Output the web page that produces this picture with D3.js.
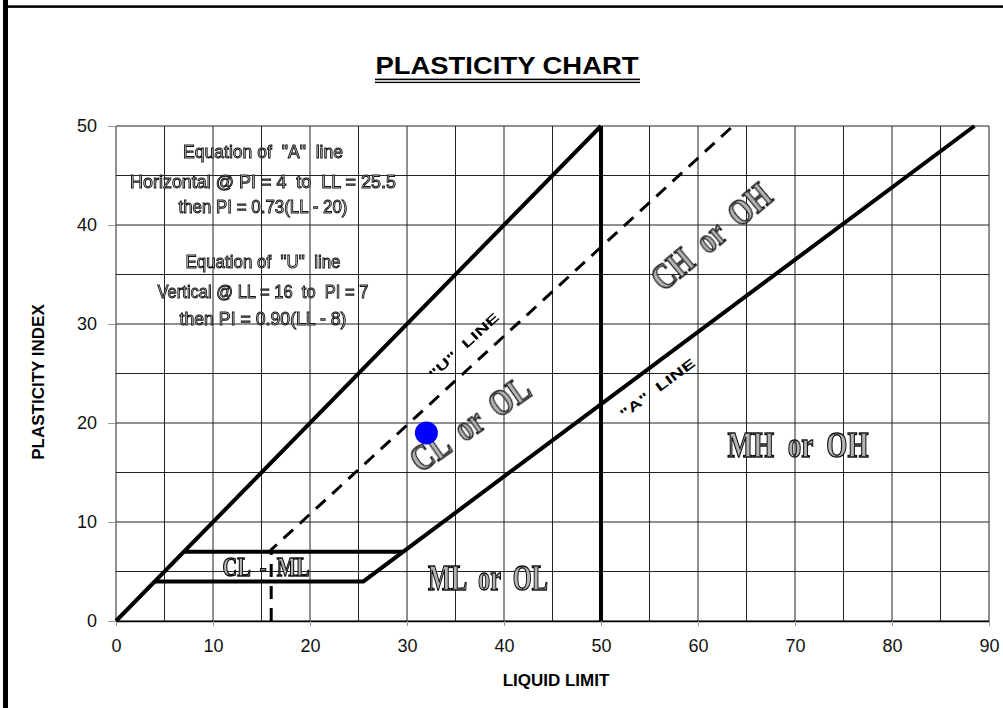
<!DOCTYPE html>
<html lang="en">
<head>
<meta charset="UTF-8">
<title>Plasticity Chart</title>
<script src="https://cdn.jsdelivr.net/npm/d3@7"></script>
<style>
  body { margin: 0; background: #fff; font-family: "Liberation Sans", Arial, sans-serif; }
  text { white-space: pre; }
  .tick text { font-size: 18px; fill: #111; font-family: "Liberation Sans", Arial, sans-serif; }
  .axis-title { font-size: 17px; font-weight: bold; text-anchor: middle; }
  .eq { font-family: "Liberation Sans Narrow", "Arial Narrow", "Liberation Sans", Arial, sans-serif;
        font-size: 19px; fill: #e2e2e2; stroke: #111; stroke-width: 1px; text-anchor: middle; }
  .zone { font-family: "Liberation Serif", "Times New Roman", serif; font-weight: bold;
          fill: #b4b4b4; stroke: #111; stroke-width: 1.4px; text-anchor: middle; }
  .line-tag { font-weight: bold; font-size: 13px; text-anchor: middle; }
  .soft { opacity: 0.995; filter: grayscale(1); }
</style>
</head>
<body>
<script>
// axis ticks
const xTicks = [0, 10, 20, 30, 40, 50, 60, 70, 80, 90]
const yTicks = [0, 10, 20, 30, 40, 50]
const gridX = [0, 5, 10, 15, 20, 25, 30, 35, 40, 45, 50, 55, 60, 65, 70, 75, 80, 85, 90]
const gridY = [0, 5, 10, 15, 20, 25, 30, 35, 40, 45, 50]

// chart lines (LL, PI)
const upperLine = [[0, 0], [50, 50]]
const llFifty = [[50, 0], [50, 50]]
const aLine = [[4, 4], [25.5, 4], [88.5, 50]]
const clmlTop = [[7, 7], [29.6, 7]]
const uLine = [[16, 0], [16, 7.2], [63.6, 50]]

// tested sample
const samples = [{ ll: 32, pi: 19 }]

const eqText = [
  'Equation of  "A"  line',
  'Horizontal @ PI = 4  to  LL = 25.5',
  'then PI = 0.73(LL - 20)',
  'Equation of  "U"  line',
  'Vertical @ LL = 16  to  PI = 7',
  'then PI = 0.90(LL - 8)'
]

const width = 1003, height = 708

const svg = d3.select('body').append('svg')
  .attr('width', width)
  .attr('height', height)

const x = d3.scaleLinear().domain([0, 90]).range([116, 989])
const y = d3.scaleLinear().domain([0, 50]).range([621, 126])

// frame
svg.append('rect').attr('x', 3).attr('y', 0).attr('width', 5).attr('height', height).attr('fill', '#000')
svg.append('rect').attr('x', 8).attr('y', 5.3).attr('width', width - 8).attr('height', 2.6).attr('fill', '#000')

// title
svg.append('text')
  .attr('x', 507).attr('y', 74)
  .attr('text-anchor', 'middle')
  .attr('font-size', 23).attr('font-weight', 'bold')
  .attr('textLength', 263).attr('lengthAdjust', 'spacingAndGlyphs')
  .text('PLASTICITY CHART')
svg.append('rect').attr('x', 375).attr('y', 78.6).attr('width', 265).attr('height', 1.6).attr('fill', '#000')
svg.append('rect').attr('x', 375).attr('y', 81.7).attr('width', 265).attr('height', 1.4).attr('fill', '#000')

// grid
const grid = svg.append('g').attr('stroke', '#222').attr('stroke-width', 1)
grid.selectAll('.gx').data(gridX).enter().append('line')
  .attr('x1', d => x(d)).attr('x2', d => x(d))
  .attr('y1', y(0)).attr('y2', y(50))
grid.selectAll('.gy').data(gridY).enter().append('line')
  .attr('y1', d => y(d)).attr('y2', d => y(d))
  .attr('x1', x(0)).attr('x2', x(90))

// axes
const yAxis = svg.append('g')
  .attr('transform', 'translate(' + x(0) + ',0)')
  .call(d3.axisLeft(y).tickValues(yTicks).tickSize(8).tickPadding(11).tickSizeOuter(0))
yAxis.select('.domain').remove()
yAxis.selectAll('.tick line').attr('stroke', '#999')

const xAxis = svg.append('g')
  .attr('transform', 'translate(0,' + y(0) + ')')
  .call(d3.axisBottom(x).tickValues(xTicks).tickSize(5).tickPadding(13).tickSizeOuter(0))
xAxis.select('.domain').attr('stroke', '#000').attr('stroke-width', 1.5)
xAxis.selectAll('.tick line').attr('stroke', '#999')

svg.append('text').attr('class', 'axis-title')
  .attr('x', 556).attr('y', 686)
  .text('LIQUID LIMIT')
svg.append('text').attr('class', 'axis-title')
  .attr('transform', 'translate(44,382) rotate(-90)')
  .text('PLASTICITY INDEX')

// classification lines
const line = d3.line().x(d => x(d[0])).y(d => y(d[1]))
const lines = svg.append('g').attr('fill', 'none').attr('stroke', '#000')
  .attr('stroke-linejoin', 'miter')
lines.append('path').attr('d', line(upperLine)).attr('stroke-width', 4)
lines.append('path').attr('d', line(llFifty)).attr('stroke-width', 4)
lines.append('path').attr('d', line(aLine)).attr('stroke-width', 4)
lines.append('path').attr('d', line(clmlTop)).attr('stroke-width', 4)
lines.append('path').attr('d', line(uLine)).attr('stroke-width', 3)
  .attr('stroke-dasharray', '13,9')

// equation notes
const eqY = [158, 188, 213, 268, 298, 325]
const eqW = [160, 266, 169, 155, 211, 167]
const notes = svg.append('g').attr('class', 'soft')
notes.selectAll('.eq').data(eqText).enter().append('text')
  .attr('class', 'eq')
  .attr('x', 263)
  .attr('y', (d, i) => eqY[i])
  .attr('textLength', (d, i) => eqW[i])
  .attr('lengthAdjust', 'spacingAndGlyphs')
  .text(d => d)

// zone labels
const zones = svg.append('g').attr('class', 'soft')
function zone (txt, cx, cy, size, len, rot) {
  zones.append('text').attr('class', 'zone')
    .attr('transform', 'translate(' + cx + ',' + cy + ') rotate(' + rot + ')')
    .attr('font-size', size)
    .attr('textLength', len).attr('lengthAdjust', 'spacingAndGlyphs')
    .text(txt)
}
zone('MH  or  OH', 798, 457, 36, 141, 0)
zone('ML  or  OL', 488, 590, 36, 120, 0)
zone('CL  -  ML', 266, 576, 27, 87, 0)
zone('CL  or  OL', 477, 434, 36, 138, -35)
zone('CH  or  OH', 719, 246, 36, 145, -40)

// line tags
svg.append('text').attr('class', 'line-tag')
  .attr('transform', 'translate(467,349) rotate(-42.5)')
  .attr('textLength', 90).attr('lengthAdjust', 'spacingAndGlyphs')
  .text('"U"  LINE')
svg.append('text').attr('class', 'line-tag')
  .attr('transform', 'translate(660,392) rotate(-36.7)')
  .attr('textLength', 90).attr('lengthAdjust', 'spacingAndGlyphs')
  .text('"A"  LINE')

// sample point
svg.selectAll('.pt').data(samples).enter().append('circle')
  .attr('cx', d => x(d.ll))
  .attr('cy', d => y(d.pi))
  .attr('r', 11.5)
  .attr('fill', '#0000ff')
</script>
</body>
</html>
